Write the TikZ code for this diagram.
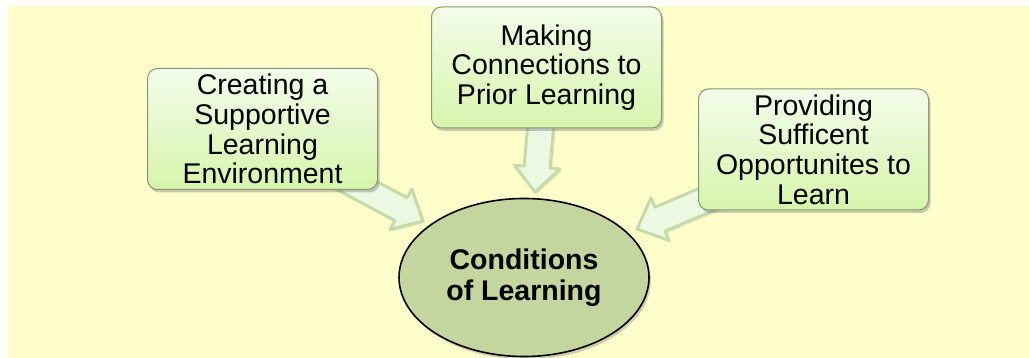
\documentclass[tikz,border=0pt]{standalone}
\usepackage{fontspec}
\setmainfont{Liberation Sans}
\usetikzlibrary{calc,shadows,shapes.geometric}
\definecolor{bgyel}{RGB}{255,255,204}
\definecolor{boxtop}{RGB}{243,252,234}
\definecolor{boxbot}{RGB}{214,245,172}
\definecolor{boxedge}{RGB}{135,150,115}
\definecolor{arrfill}{RGB}{236,248,226}
\definecolor{arredge}{RGB}{197,219,168}
\definecolor{ellfill}{RGB}{196,214,160}
\tikzset{
  topicbox/.style={rectangle, rounded corners=10pt, draw=boxedge, line width=1pt,
    top color=boxtop, bottom color=boxbot,
    minimum width=230pt, minimum height=121pt, inner sep=0pt,
    align=center, text=black,
    font=\fontsize{28.5}{29.7}\selectfont,
    drop shadow={shadow xshift=2pt, shadow yshift=-3pt, opacity=0.35, fill=black!60}},
  centerell/.style={ellipse, draw=black, line width=1.6pt, fill=ellfill,
    minimum width=250pt, minimum height=158pt, inner sep=0pt,
    align=center, text=black,
    font=\bfseries\fontsize{28.5}{30.5}\selectfont,
    drop shadow={shadow xshift=2pt, shadow yshift=-3pt, opacity=0.3, fill=black!60}},
  blockarrow/.style={draw=arredge, line width=3pt, fill=arrfill, line join=round,
    drop shadow={shadow xshift=2pt, shadow yshift=-2pt, opacity=0.15, fill=black!60}}
}
\newcommand\blkarrow[2]{%
  \coordinate (#2-h) at ($(#2)!25pt!(#1)$);
  \draw[blockarrow] (#2) -- ($(#2-h)!23pt!90:(#1)$) -- ($(#2-h)!13pt!90:(#1)$)
    -- ($(#1)!13pt!-90:(#2)$) -- ($(#1)!13pt!90:(#2)$)
    -- ($(#2-h)!13pt!-90:(#1)$) -- ($(#2-h)!23pt!-90:(#1)$) -- cycle;}
\begin{document}
\begin{tikzpicture}[x=1pt,y=-1pt]
\useasboundingbox (0,0) rectangle (1029,358);
\fill[bgyel] (8,6) rectangle (1029,358);
% arrow endpoints
\coordinate (ls) at (326,169);
\coordinate (lt) at (423,221);
\coordinate (ms) at (542,110);
\coordinate (mt) at (535,192);
\coordinate (rs) at (738,186);
\coordinate (rt) at (637,229);
\blkarrow{ls}{lt}
\blkarrow{ms}{mt}
\blkarrow{rs}{rt}
\node[topicbox] (left) at (262.5,129) {Creating a\\Supportive\\Learning\\Environment};
\node[topicbox] (mid) at (546.5,67.5) {Making\\Connections to\\Prior Learning};
\node[topicbox] (right) at (813.5,149.5) {Providing\\Sufficent\\Opportunites to\\Learn};
\node[centerell] (center) at (524,277.5) {Conditions\\of Learning};
\end{tikzpicture}
\end{document}
